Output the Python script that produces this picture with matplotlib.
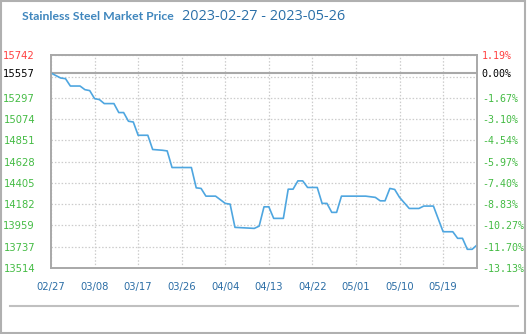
import numpy as np
import pandas as pd
import matplotlib
matplotlib.use("Agg")
import matplotlib.pyplot as plt
import matplotlib.dates as mdates
from matplotlib.patches import Rectangle
from matplotlib.lines import Line2D

# price vertices
dates = ["2023-02-27", "2023-03-01", "2023-03-02", "2023-03-03", "2023-03-05",
         "2023-03-06", "2023-03-07", "2023-03-08", "2023-03-09", "2023-03-10",
         "2023-03-12", "2023-03-13", "2023-03-14", "2023-03-15", "2023-03-16",
         "2023-03-17", "2023-03-19", "2023-03-20", "2023-03-22", "2023-03-23",
         "2023-03-24", "2023-03-28", "2023-03-29", "2023-03-30", "2023-03-31",
         "2023-04-02", "2023-04-04", "2023-04-05", "2023-04-06", "2023-04-10",
         "2023-04-11", "2023-04-12", "2023-04-13", "2023-04-14", "2023-04-16",
         "2023-04-17", "2023-04-18", "2023-04-19", "2023-04-20", "2023-04-21",
         "2023-04-23", "2023-04-24", "2023-04-25", "2023-04-26", "2023-04-27",
         "2023-04-28", "2023-05-03", "2023-05-05", "2023-05-06", "2023-05-07",
         "2023-05-08", "2023-05-09", "2023-05-10", "2023-05-12", "2023-05-14",
         "2023-05-15", "2023-05-17", "2023-05-19", "2023-05-21", "2023-05-22",
         "2023-05-23", "2023-05-24", "2023-05-25", "2023-05-26"]
prices = [15557, 15505, 15498, 15421, 15421,
          15383, 15373, 15289, 15279, 15237,
          15237, 15143, 15143, 15052, 15044,
          14905, 14905, 14756, 14748, 14741,
          14567, 14567, 14354, 14348, 14267,
          14267, 14191, 14183, 13940, 13929,
          13953, 14155, 14155, 14034, 14034,
          14340, 14340, 14427, 14427, 14358,
          14358, 14191, 14191, 14097, 14097,
          14267, 14267, 14254, 14218, 14218,
          14348, 14337, 14254, 14138, 14138,
          14163, 14163, 13894, 13894, 13825,
          13825, 13710, 13710, 13755]

base_price = 15557
y_min, y_max = 13514, 15742
ytick_labels = ["13514", "13737", "13959", "14182", "14405", "14628",
                "14851", "15074", "15297", "", "15742"]
pct_labels = ["-13.13%", "-11.70%", "-10.27%", "-8.83%", "-7.40%", "-5.97%",
              "-4.54%", "-3.10%", "-1.67%", "", "1.19%"]
xtick_labels = ["02/27", "03/08", "03/17", "03/26", "04/04",
                "04/13", "04/22", "05/01", "05/10", "05/19"]
title = "Stainless Steel Market Price"
period = "2023-02-27 - 2023-05-26"

green = "#44bb44"
red = "#ff4040"
blue_txt = "#2c6ea6"

x = pd.to_datetime(dates)
xticks = pd.to_datetime(["2023/" + s for s in xtick_labels])

fig = plt.figure(figsize=(5.28, 3.34), dpi=100)
ax = fig.add_axes([51 / 528, 1 - 268 / 334, 426 / 528, 212.6 / 334])

ax.plot(x, prices, color="#4ea6e0", lw=1.2, zorder=3)
ax.axhline(base_price, color="#a8a8a8", lw=1.5, zorder=2)

ax.set_xlim(pd.Timestamp("2023-02-27"), pd.Timestamp("2023-05-26"))
ax.set_ylim(y_min, y_max)

gticks = np.linspace(y_min, y_max, len(ytick_labels))
ax.set_yticks(gticks)
ax.set_yticklabels(ytick_labels)
ax.set_yticks([base_price], minor=True)
ax.set_yticklabels([str(base_price)], minor=True)
ax.set_xticks(xticks)
ax.set_xticklabels(xtick_labels)

ax.grid(True, which="major", color="#cccccc", ls=(0, (1.2, 1.5)), lw=0.9)
ax.tick_params(which="both", length=0)
ax.tick_params(axis="y", which="both", pad=11.5, labelsize=7.2)
ax.tick_params(axis="x", pad=10, labelsize=7.2, colors=blue_txt)
for lab in ax.get_yticklabels():
    lab.set_color(green)
ax.get_yticklabels()[-1].set_color(red)
ax.get_yticklabels(minor=True)[0].set_color("black")

ax2 = ax.twinx()
ax2.set_ylim(y_min, y_max)
ax2.set_yticks(gticks)
ax2.set_yticklabels(pct_labels, family="DejaVu Sans Mono")
ax2.set_yticks([base_price], minor=True)
ax2.set_yticklabels(["0.00%"], minor=True, family="DejaVu Sans Mono")
ax2.tick_params(which="both", length=0, pad=3.5, labelsize=7.2)
for lab in ax2.get_yticklabels():
    lab.set_color(green)
ax2.get_yticklabels()[-1].set_color(red)
ax2.get_yticklabels(minor=True)[0].set_color("black")

for a in (ax, ax2):
    for s in a.spines.values():
        s.set_color("#a8a8a8")
        s.set_linewidth(1.2)

fig.text(22 / 528, 1 - 17 / 334, title, fontsize=8.8, fontweight="bold",
         family="Lato", color="#3f86bd", va="center")
fig.text(182 / 528, 1 - 16 / 334, period, fontsize=10.4, family="Open Sans",
         color="#2a6fa8", va="center")

fig.add_artist(Line2D([10 / 528, 518 / 528], [1 - 306 / 334] * 2,
                      color="#c0c0c0", lw=1.5))
fig.add_artist(Rectangle((0.002, 0.003), 0.992, 0.994, transform=fig.transFigure,
                         fill=False, edgecolor="#b0b0b0", lw=1.5))

fig.savefig("out.png", dpi=100, facecolor="white")
